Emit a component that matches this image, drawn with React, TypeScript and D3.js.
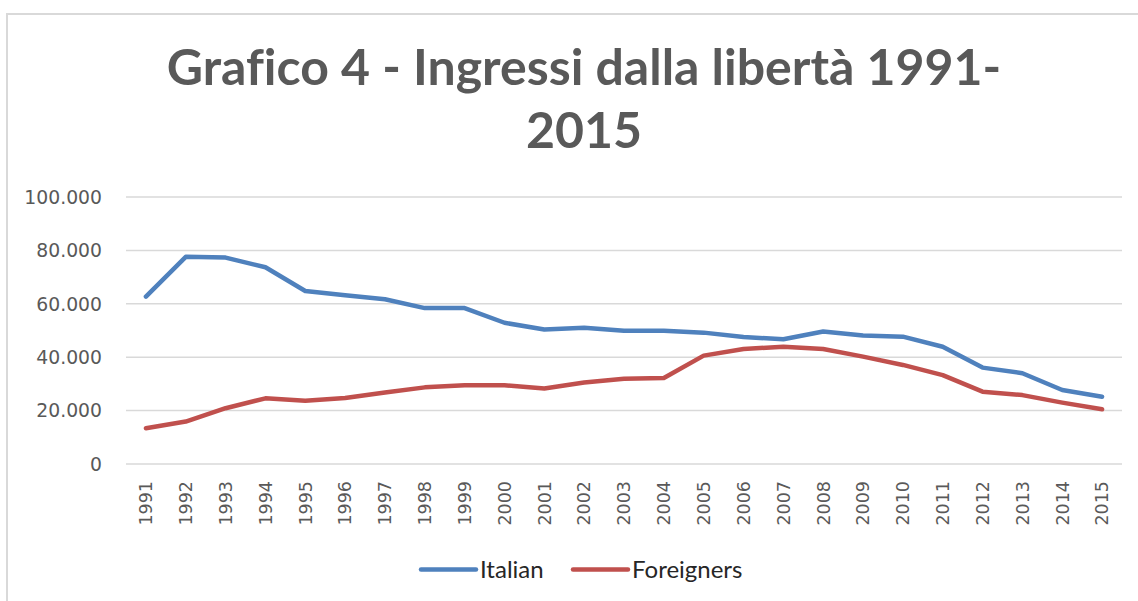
import React from "react";
import * as d3 from "d3";

const years = [1991,1992,1993,1994,1995,1996,1997,1998,1999,2000,2001,2002,2003,2004,2005,2006,2007,2008,2009,2010,2011,2012,2013,2014,2015];
const italian = [62700,77600,77300,73700,64800,63200,61700,58400,58400,52900,50400,51000,49900,49900,49200,47600,46700,49600,48100,47700,43900,36100,34000,27700,25200];
const foreigners = [13400,15900,20900,24600,23700,24700,26800,28700,29500,29500,28300,30500,31900,32200,40600,43100,43900,43100,40200,37100,33300,27100,25800,23000,20500];
const yTicks = [0,20000,40000,60000,80000,100000];
const titleLines = ["Grafico 4 - Ingressi dalla libertà 1991-", "2015"];
const seriesNames = ["Italian", "Foreigners"];
const colors = ["#4F81BD", "#C0504D"];

const W = 1138, H = 601;
const plot = { left: 126, right: 1122, top: 197, bottom: 464 };
const FONT = "'DejaVu Sans', sans-serif";

export default function App() {
  const x = d3.scaleBand<number>().domain(years).range([plot.left, plot.right]);
  const y = d3.scaleLinear().domain([0, 100000]).range([plot.bottom, plot.top]);
  const fmt = (v: number) => v === 0 ? "0" : d3.format(",")(v).replace(/,/g, ".");
  const line = d3.line<number>()
    .x((_, i) => (x(years[i]) as number) + x.bandwidth() / 2)
    .y((d) => y(d));
  const data = [italian, foreigners];
  return (
    <svg width={W} height={H} style={{ position: "absolute", left: 0, top: 0, background: "#fff" }}>
      <rect x={0} y={0} width={W} height={H} fill="#fff" />
      <path d={`M7,${H} V14 H${W}`} fill="none" stroke="#d9d9d9" strokeWidth={2} />
      {titleLines.map((t, i) => (
        <text key={i} x={584} y={85 + i * 63} textAnchor="middle" fontFamily="Lato, sans-serif" fontWeight="bold" fontSize={50} fill="#595959" style={{ fontVariantLigatures: "none" }}>{t}</text>
      ))}
      {yTicks.map((t) => (
        <g key={t}>
          <line x1={plot.left} x2={plot.right} y1={y(t)} y2={y(t)} stroke="#d9d9d9" strokeWidth={1.5} />
          <text x={102} y={y(t)} dy="0.36em" textAnchor="end" fontFamily={FONT} fontSize={18.8} fill="#595959">{fmt(t)}</text>
        </g>
      ))}
      {years.map((yr) => {
        const cx = (x(yr) as number) + x.bandwidth() / 2;
        return (
          <text key={yr} transform={`translate(${cx},481) rotate(-90)`} dy="0.36em" textAnchor="end" fontFamily={FONT} fontSize={17.5} fill="#595959">{yr}</text>
        );
      })}
      {data.map((d, i) => (
        <path key={i} d={line(d) as string} fill="none" stroke={colors[i]} strokeWidth={4.5} strokeLinejoin="round" strokeLinecap="round" />
      ))}
      {seriesNames.map((n, i) => {
        const lx = i === 0 ? 421 : 573;
        return (
          <g key={n}>
            <line x1={lx} x2={lx + 55} y1={569.5} y2={569.5} stroke={colors[i]} strokeWidth={4.5} strokeLinecap="round" />
            <text x={lx + 59} y={569.5} dy="0.36em" fontFamily="Lato, sans-serif" fontSize={24} fill="#262626">{n}</text>
          </g>
        );
      })}
    </svg>
  );
}
